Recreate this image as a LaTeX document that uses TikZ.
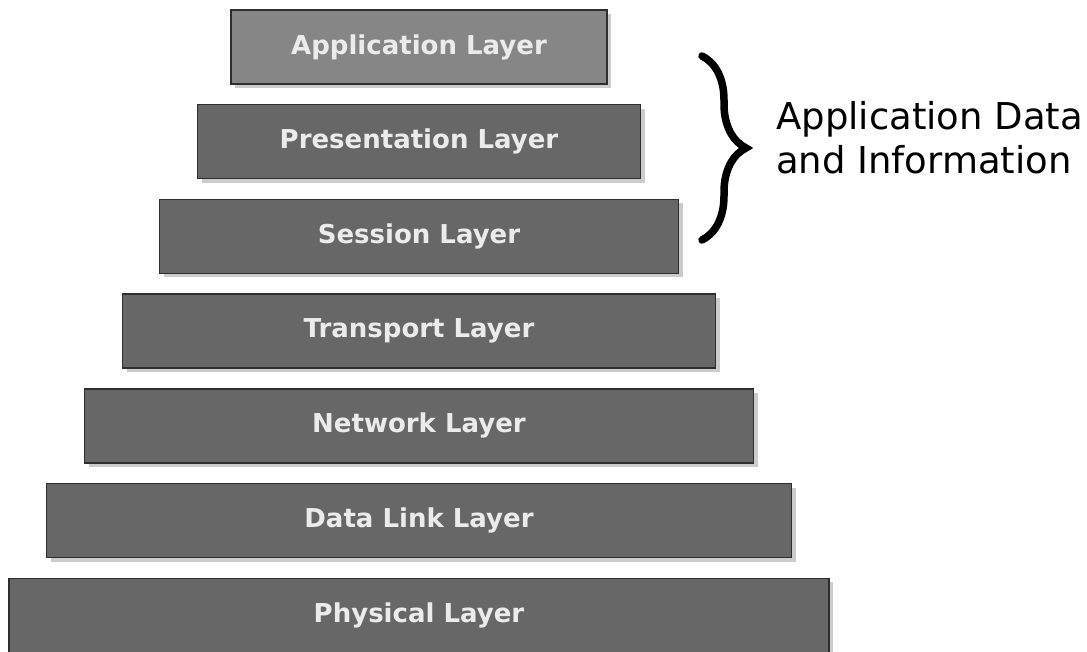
\documentclass[tikz,border=0pt]{standalone}
\usepackage{fontspec}
\setmainfont{DejaVu Sans}
\usepackage{xcolor}
\usetikzlibrary{positioning,shadows,decorations.pathreplacing}
\definecolor{layerdark}{HTML}{676767}
\definecolor{layerlight}{HTML}{868686}
\definecolor{layerline}{HTML}{2E2E2E}

\begin{document}
\begin{tikzpicture}[x=1pt, y=-1pt, node distance=19.3pt,
  layer/.style={draw=layerline, line width=1.4pt, fill=layerdark, text=white!92!black, font=\fontsize{26}{30}\selectfont\bfseries, minimum height=74pt, inner sep=0pt, drop shadow={opacity=0.4, shadow xshift=4pt, shadow yshift=-4pt}},
  bracemark/.style={decorate, decoration={brace, amplitude=44pt}, line width=7.5pt, line cap=round}]
\useasboundingbox (0,0) rectangle (1087,652);
\node[layer, fill=layerlight, minimum width=376pt] at (419,47) (app) {Application Layer};
\node[layer, minimum width=443pt, below=of app] (pres) {Presentation Layer};
\node[layer, minimum width=519pt, below=of pres] (sess) {Session Layer};
\node[layer, minimum width=593pt, below=of sess] (trans) {Transport Layer};
\node[layer, minimum width=669pt, below=of trans] (net) {Network Layer};
\node[layer, minimum width=745pt, below=of net] (link) {Data Link Layer};
\node[layer, minimum width=820pt, below=of link] (phys) {Physical Layer};
% brace over the upper three layers
\coordinate (bracetop) at (702,56);
\coordinate (bracebot) at (702,240);
\draw[bracemark] (bracetop) -- (bracebot);
\node[anchor=west, align=left, inner sep=0pt, font=\fontsize{37}{44}\selectfont] (appdata) at (776,138) {Application Data\\and Information};
\end{tikzpicture}
\end{document}
